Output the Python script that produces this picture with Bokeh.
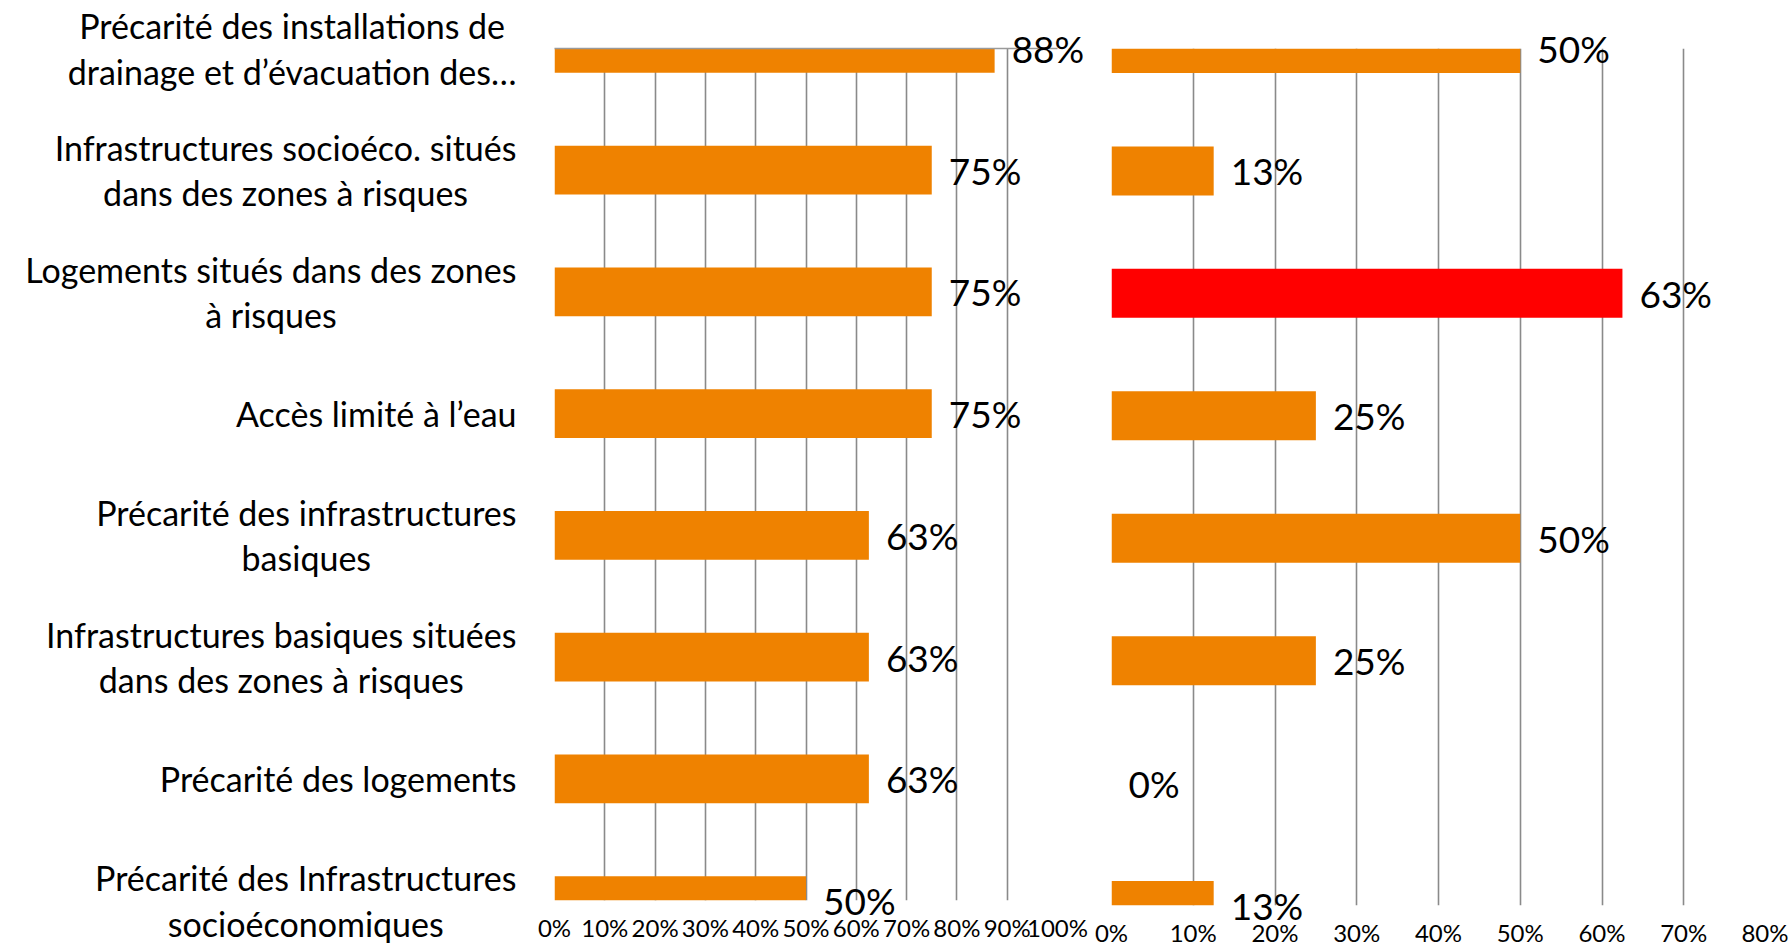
from bokeh.plotting import figure
from bokeh.layouts import row
from bokeh.models import ColumnDataSource, Range1d, FixedTicker, NumeralTickFormatter, LinearAxis
from bokeh.core.properties import value
from bokeh.embed import file_html
from bokeh.resources import INLINE

# ---------------- data ----------------
categories = [
    "Précarité des installations de\ndrainage et d’évacuation des…",
    "Infrastructures socioéco. situés\ndans des zones à risques",
    "Logements situés dans des zones\nà risques",
    "Accès limité à l’eau",
    "Précarité des infrastructures\nbasiques",
    "Infrastructures basiques situées\ndans des zones à risques",
    "Précarité des logements",
    "Précarité des Infrastructures\nsocioéconomiques",
]
left_values = [0.875, 0.75, 0.75, 0.75, 0.625, 0.625, 0.625, 0.5]
right_values = [0.5, 0.125, 0.625, 0.25, 0.5, 0.25, 0.0, 0.125]
left_ticks = [0.0, 0.1, 0.2, 0.3, 0.4, 0.5, 0.6, 0.7, 0.8, 0.9, 1.0]
right_ticks = [0.0, 0.1, 0.2, 0.3, 0.4, 0.5, 0.6, 0.7, 0.8]

ORANGE = "#EF8200"
RED = "#FF0000"
right_colors = [ORANGE, ORANGE, RED, ORANGE, ORANGE, ORANGE, ORANGE, ORANGE]
left_colors = [ORANGE] * len(left_values)

FONT = "Lato"
GRID = "#8a8a8a"


def pct(v):
    return f"{int(v * 100 + 0.5)}%"


idx = list(range(len(categories)))
n_last = len(categories) - 1

# ---------------- category labels ----------------
lab = figure(frame_width=516, frame_height=852,
             x_range=Range1d(0, 1), y_range=Range1d(n_last, 0),
             x_axis_location=None, y_axis_location=None,
             toolbar_location=None, output_backend="svg",
             min_border_left=0, min_border_right=0, min_border_top=48, min_border_bottom=46)
lab.outline_line_color = None
lab.xgrid.visible = False
lab.ygrid.visible = False
lab_src = ColumnDataSource(dict(y=idx, x=[lab.x_range.end] * len(idx), text=categories))
lab.text(x="x", y="y", text="text", source=lab_src, anchor="center_right",
         text_align="center", text_baseline="middle", text_font=value(FONT),
         text_font_size="34px", text_color="#000000", text_line_height=1.1, level="overlay")


def bar_fig(values, colors, ticks, xmax, frame_w, frame_h, left_b, right_b, top_b, top_line):
    p = figure(frame_width=frame_w, frame_height=frame_h,
               x_range=Range1d(0, xmax), y_range=Range1d(n_last, 0),
               y_axis_location=None, toolbar_location=None, output_backend="svg",
               min_border_left=left_b, min_border_right=right_b,
               min_border_top=top_b, min_border_bottom=46)
    p.outline_line_color = None
    p.ygrid.visible = False
    p.xgrid.ticker = FixedTicker(ticks=ticks)
    p.xgrid.grid_line_color = GRID
    p.xgrid.grid_line_width = 1.6
    ax = p.xaxis[0]
    ax.ticker = FixedTicker(ticks=ticks)
    ax.formatter = NumeralTickFormatter(format="0%")
    ax.axis_line_color = None
    ax.major_tick_line_color = None
    ax.minor_tick_line_color = None
    ax.major_tick_out = 0
    ax.major_tick_in = 0
    ax.major_label_standoff = 12
    ax.major_label_text_font = FONT
    ax.major_label_text_font_size = "24px"
    ax.major_label_text_color = "#000000"
    if top_line:
        top = LinearAxis(ticker=FixedTicker(ticks=[]), axis_line_color="#9a9a9a",
                         axis_line_width=1.6, major_tick_line_color=None,
                         minor_tick_line_color=None, major_label_text_font_size="0px",
                         major_label_standoff=0)
        p.add_layout(top, "above")
    src = ColumnDataSource(dict(y=idx, v=values, c=colors, t=[pct(v) for v in values]))
    p.hbar(y="y", left=0, right="v", height=0.4, fill_color="c", line_color=None, source=src)
    p.text(x="v", y="y", text="t", source=src, x_offset=17, text_align="left",
           text_baseline="middle", text_font=value(FONT), text_font_size="37px",
           text_color="#000000", level="overlay")
    return p


left = bar_fig(left_values, left_colors, left_ticks, 1.0, 503, 852, 38, 33, 48, True)
right = bar_fig(right_values, right_colors, right_ticks, 0.8, 654, 857, 21, 23, 43, False)

layout = row(lab, left, right)
open("out.html", "w").write(file_html(layout, INLINE))
